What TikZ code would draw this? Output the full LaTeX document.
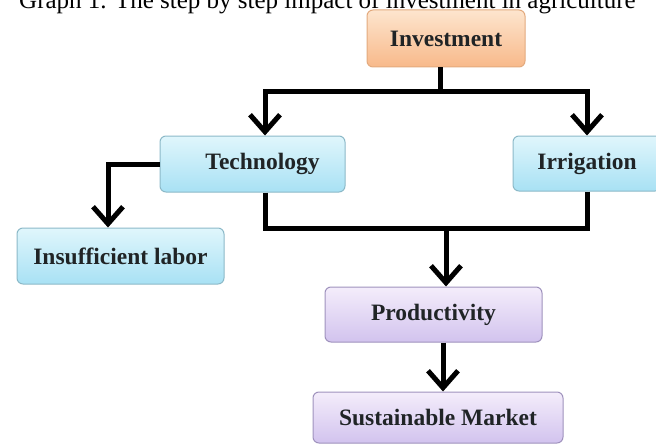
\documentclass[tikz,border=0pt]{standalone}
\usepackage{fontspec}
\setmainfont{Liberation Serif}
\usetikzlibrary{arrows.meta}

\definecolor{cyantop}{HTML}{E0F6FC}
\definecolor{cyanbot}{HTML}{A8E1F4}
\definecolor{cyanline}{HTML}{8CB9C8}
\definecolor{orangetop}{HTML}{FDE5CE}
\definecolor{orangebot}{HTML}{F8B98A}
\definecolor{orangeline}{HTML}{E3AA7E}
\definecolor{lilactop}{HTML}{F4EDFB}
\definecolor{lilacbot}{HTML}{D2C3EE}
\definecolor{lilacline}{HTML}{9F92BD}
\definecolor{boxtext}{HTML}{202426}

\tikzset{
  stepbox/.style={draw, line width=1pt, rounded corners=6pt,
    text=boxtext, font=\bfseries\fontsize{23.5}{27}\selectfont},
  bluebox/.style={stepbox, draw=cyanline, top color=cyantop, bottom color=cyanbot},
  orangebox/.style={stepbox, draw=orangeline, top color=orangetop, bottom color=orangebot},
  lilacbox/.style={stepbox, draw=lilacline, top color=lilactop, bottom color=lilacbot},
  bar/.style={line width=5pt},
  flow/.style={bar, -{Straight Barb[length=17pt, width=30pt]}}
}

\begin{document}
\begin{tikzpicture}[x=1pt, y=-1pt]
  \useasboundingbox (0,0) rectangle (656,444);

  % caption, cut at the top edge
  \node[anchor=base west, inner sep=0pt, font=\fontsize{25}{30}\selectfont] (caption) at (19,9)
    {Graph 1. The step by step impact of investment in agriculture};

  % boxes
  \node[orangebox, minimum width=158pt, minimum height=57pt] (invest) at (446,38.5) {Investment};
  \node[bluebox, minimum width=185pt, minimum height=56pt] (tech) at (252.5,164) {\hspace{20pt}Technology};
  \node[bluebox, minimum width=148pt, minimum height=55pt] (irrig) at (587,163.5) {Irrigation};
  \node[bluebox, minimum width=207pt, minimum height=56pt] (labor) at (120.5,256) {Insufficient labor};
  \node[lilacbox, minimum width=217pt, minimum height=55pt] (prod) at (433.5,314.5) {Productivity};
  \node[lilacbox, minimum width=250pt, minimum height=51pt] (market) at (438,417.5) {Sustainable Market};

  % branching points
  \coordinate (top) at (440,91);
  \coordinate (mid) at (446,228);
  \coordinate (low) at (443,342);

  % connectors
  \draw[bar] ([xshift=-6pt]invest.south) -- (top);
  \draw[flow] (top) -| ([xshift=12.5pt]tech.north);
  \draw[flow] (top) -| (irrig.north);
  \draw[flow] (tech.west) -| ([xshift=-12.5pt]labor.north);
  \draw[bar] ([xshift=12.5pt]tech.south) |- (mid);
  \draw[bar] (irrig.south) |- (mid);
  \draw[flow] (mid) -- (mid |- prod.north);
  \draw[flow] (low |- prod.south) -- (low |- market.north);
\end{tikzpicture}
\end{document}
